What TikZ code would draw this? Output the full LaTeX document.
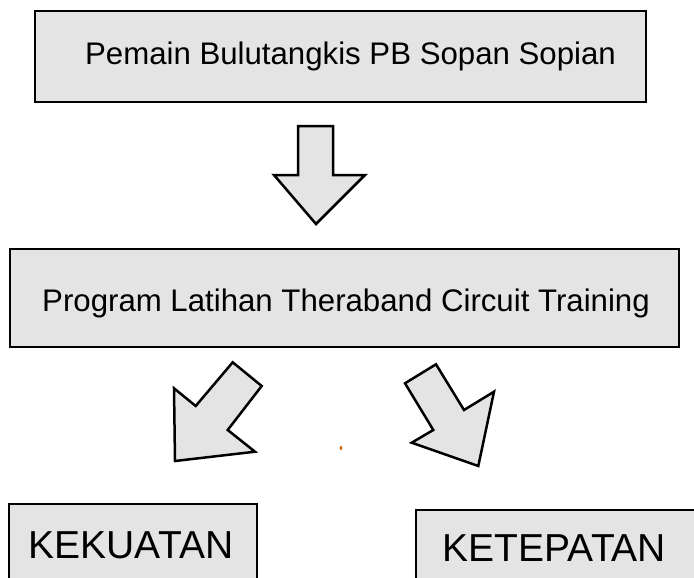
\documentclass[tikz,border=0pt]{standalone}
\usepackage{fontspec}
\setmainfont{Liberation Sans}
\definecolor{boxfill}{RGB}{228,228,228}
\definecolor{dotorange}{RGB}{200,110,30}
\begin{document}
\begin{tikzpicture}[x=1pt,y=-1pt,
  boxshape/.style={draw=black, line width=2.1pt, fill=boxfill, rectangle, inner sep=0pt},
  bigtext/.style={anchor=base, inner sep=0pt, font=\fontsize{31.2}{36}\selectfont},
  hugetext/.style={anchor=base, inner sep=0pt, font=\fontsize{39}{44}\selectfont},
  blockarrow/.style={draw=black, line width=2.5pt, fill=boxfill, line join=miter}]
\useasboundingbox (0,0) rectangle (694,578);
\clip (0,0) rectangle (694,578);
\fill[white] (0,0) rectangle (694,578);
% top box
\node[boxshape, minimum width=611pt, minimum height=91pt] (b1) at (340.5,56.5) {};
\node[bigtext] (t1) at (350.5,65) {Pemain Bulutangkis PB Sopan Sopian};
% down arrow
\draw[blockarrow] (298,126) -- (333,126) -- (333,175) -- (365,175) -- (316,224) -- (274,175) -- (298,175) -- cycle;
% second box
\node[boxshape, minimum width=669pt, minimum height=98pt] (b2) at (344.5,298) {};
\node[bigtext] (t2) at (346,311) {Program Latihan Theraband Circuit Training};
% left diagonal arrow
\draw[blockarrow] (232.7,362.3) -- (261.7,386) -- (227.7,430) -- (255,451.7) -- (175,461) -- (174,388.3) -- (195.7,406) -- cycle;
% right diagonal arrow
\draw[blockarrow] (436,364.3) -- (405,383.3) -- (433.3,430) -- (411.7,442.7) -- (478.3,466) -- (494,391.7) -- (464,410) -- cycle;
% small orange mark
\fill[dotorange] (341,448) ellipse (1.4pt and 2.1pt);
% bottom boxes
\node[boxshape, minimum width=248pt, minimum height=120pt] (b3) at (133,564) {};
\node[hugetext] (t3) at (131,558) {KEKUATAN};
\node[boxshape, minimum width=320pt, minimum height=120pt] (b4) at (576,570) {};
\node[hugetext] (t4) at (554.5,561) {KETEPATAN};
\end{tikzpicture}
\end{document}
